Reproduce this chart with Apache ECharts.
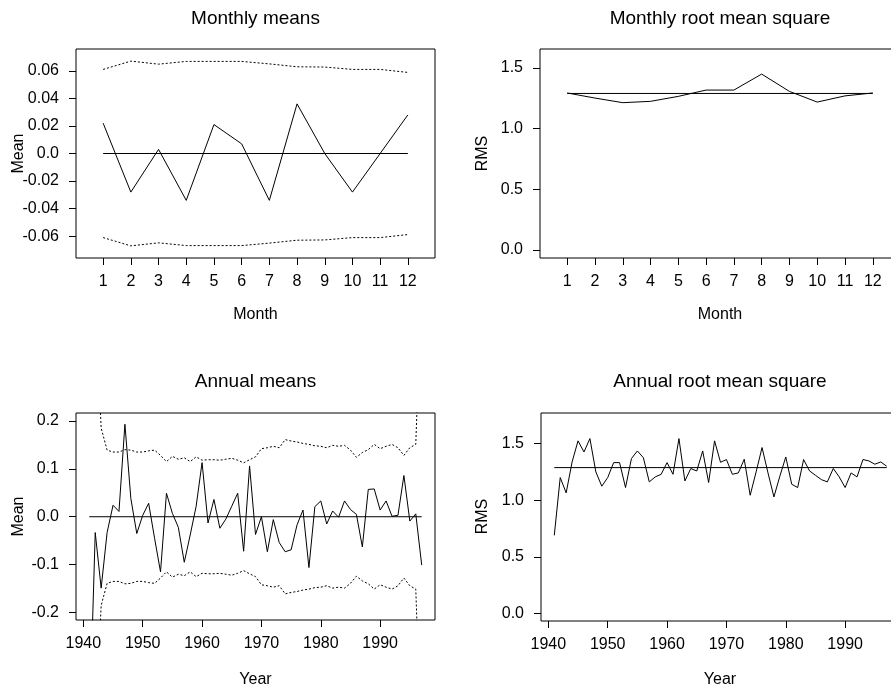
<!DOCTYPE html>
<html>
<head>
<meta charset="utf-8">
<script src="https://cdn.jsdelivr.net/npm/echarts@6/dist/echarts.min.js"></script>
<style>html,body{margin:0;padding:0;background:#fff}#c{width:891px;height:687px}</style>
</head>
<body>
<div id="c"></div>
<script>
// ---------- data ----------
const months = [1,2,3,4,5,6,7,8,9,10,11,12];
const monthlyMean = [0.022,-0.028,0.003,-0.034,0.021,0.007,-0.034,0.036,0.000,-0.028,0.000,0.028];
const monthlyMeanUpper = [0.061,0.067,0.0648,0.0668,0.0668,0.0668,0.065,0.0629,0.0627,0.061,0.061,0.0588];
const monthlyMeanLower = [-0.061,-0.067,-0.0648,-0.0668,-0.0668,-0.0668,-0.065,-0.0629,-0.0627,-0.061,-0.061,-0.0588];
const monthlyMeanRef = 0.0;
const monthlyRms = [1.294,1.252,1.214,1.225,1.266,1.318,1.318,1.450,1.307,1.219,1.270,1.294];
const monthlyRmsRef = 1.29;

const years = [1941,1942,1943,1944,1945,1946,1947,1948,1949,1950,
  1951,1952,1953,1954,1955,1956,1957,1958,1959,1960,
  1961,1962,1963,1964,1965,1966,1967,1968,1969,1970,
  1971,1972,1973,1974,1975,1976,1977,1978,1979,1980,
  1981,1982,1983,1984,1985,1986,1987,1988,1989,1990,
  1991,1992,1993,1994,1995,1996,1997];
const annualMean = [-0.45,-0.033,-0.149,-0.033,0.024,0.011,0.193,0.038,-0.035,0.003,
  0.028,-0.045,-0.115,0.049,0.007,-0.022,-0.095,-0.038,0.022,0.113,
  -0.013,0.036,-0.024,-0.005,0.022,0.049,-0.072,0.106,-0.037,0.000,
  -0.073,-0.006,-0.054,-0.073,-0.069,-0.017,0.014,-0.106,0.021,0.033,
  -0.015,0.012,-0.001,0.033,0.015,0.005,-0.063,0.057,0.058,0.014,
  0.033,0.001,0.003,0.086,-0.009,0.006,-0.101];
const annualMeanUpper = [null,0.45,0.185,0.139,0.135,0.135,0.140,0.139,0.135,0.135,
  0.1375,0.139,0.128,0.115,0.126,0.120,0.123,0.115,0.125,0.118,
  0.119,0.119,0.118,0.120,0.122,0.118,0.1125,0.119,0.125,0.142,
  0.144,0.147,0.144,0.161,0.158,0.156,0.153,0.151,0.148,0.147,
  0.144,0.149,0.147,0.149,0.139,0.124,0.134,0.140,0.151,0.142,
  0.147,0.151,0.144,0.128,0.144,0.151,0.5];
const annualMeanLower = [null,-0.45,-0.185,-0.139,-0.135,-0.135,-0.140,-0.139,-0.135,-0.135,
  -0.1375,-0.139,-0.128,-0.115,-0.126,-0.120,-0.123,-0.115,-0.125,-0.118,
  -0.119,-0.119,-0.118,-0.120,-0.122,-0.118,-0.1125,-0.119,-0.125,-0.142,
  -0.144,-0.147,-0.144,-0.161,-0.158,-0.156,-0.153,-0.151,-0.148,-0.147,
  -0.144,-0.149,-0.147,-0.149,-0.139,-0.124,-0.134,-0.140,-0.151,-0.142,
  -0.147,-0.151,-0.144,-0.128,-0.144,-0.151,-0.5];
const annualMeanRef = 0.0;
const annualRms = [0.69,1.20,1.065,1.338,1.524,1.426,1.544,1.25,1.124,1.20,
  1.332,1.332,1.112,1.368,1.435,1.376,1.162,1.206,1.229,1.332,
  1.229,1.544,1.17,1.28,1.258,1.435,1.156,1.524,1.335,1.359,
  1.229,1.241,1.362,1.044,1.25,1.465,1.241,1.029,1.212,1.382,
  1.141,1.112,1.359,1.259,1.22,1.182,1.162,1.28,1.206,1.112,
  1.241,1.206,1.359,1.347,1.318,1.338,1.30];
const annualRmsRef = 1.288;

const monthTicks = [1,2,3,4,5,6,7,8,9,10,11,12];
const yearTicks = [1940,1950,1960,1970,1980,1990];
const monthMeanTicks = [-0.06,-0.04,-0.02,0,0.02,0.04,0.06];
const annualMeanTicks = [-0.2,-0.1,0,0.1,0.2];
const rmsTicks = [0,0.5,1.0,1.5];

// ---------- chart ----------
const FONT = '"Liberation Sans", Arial, sans-serif';
const chart = echarts.init(document.getElementById('c'), null, {renderer: 'canvas'});
const pair = (xs, ys) => xs.map((x, i) => [x, ys[i]]);
const flat = (xs, v) => [[xs[0], v], [xs[xs.length - 1], v]];

const grids = [
  {left: 76, top: 49, width: 359, height: 209},
  {left: 540, top: 49, width: 360, height: 209},
  {left: 76, top: 413, width: 359, height: 207},
  {left: 541, top: 413, width: 359, height: 208}
].map(g => Object.assign({show: true, borderColor: '#000', borderWidth: 1, backgroundColor: 'transparent',
  containLabel: false, outerBoundsMode: 'none'}, g));

function xAx(gi, min, max, ticks) {
  return {type: 'value', gridIndex: gi, min, max, position: 'bottom',
    axisLine: {show: false, onZero: false}, splitLine: {show: false},
    axisTick: {show: true, length: 7, customValues: ticks, lineStyle: {color: '#000', width: 1}},
    axisLabel: {customValues: ticks, margin: 16, color: '#000', fontSize: 16, fontFamily: FONT,
      formatter: v => String(v)}};
}
function yAx(gi, min, max, ticks, fmt) {
  return {type: 'value', gridIndex: gi, min, max, position: 'left',
    axisLine: {show: false, onZero: false}, splitLine: {show: false},
    axisTick: {show: true, length: 7, customValues: ticks, lineStyle: {color: '#000', width: 1}},
    axisLabel: {customValues: ticks, margin: 17, color: '#000', fontSize: 16, fontFamily: FONT, formatter: fmt}};
}
const fmt2 = v => Math.abs(v) < 1e-12 ? '0.0' : v.toFixed(2);
const fmt1 = v => Math.abs(v) < 1e-12 ? '0.0' : v.toFixed(1);

function line(gi, data, dotted) {
  return {type: 'line', xAxisIndex: gi, yAxisIndex: gi, data, showSymbol: false, symbol: 'none',
    connectNulls: false, silent: true, clip: true,
    lineStyle: {color: '#000', width: 1, type: dotted ? [2, 2] : 'solid'}};
}

function txt(text, x, y, size, rot) {
  return {type: 'text', x, y, rotation: rot || 0, silent: true,
    style: {text, fill: '#000', font: size + 'px ' + FONT, align: 'center', verticalAlign: 'middle',
      textAlign: 'center', textVerticalAlign: 'middle'}};
}

chart.setOption({
  animation: false,
  backgroundColor: '#fff',
  grid: grids,
  xAxis: [
    xAx(0, 0.02, 12.98, monthTicks),
    xAx(1, 0.02, 12.98, monthTicks),
    xAx(2, 1938.76, 1999.24, yearTicks),
    xAx(3, 1938.76, 1999.24, yearTicks)
  ],
  yAxis: [
    yAx(0, -0.0758, 0.0758, monthMeanTicks, fmt2),
    yAx(1, -0.068, 1.657, rmsTicks, fmt1),
    yAx(2, -0.2155, 0.2165, annualMeanTicks, fmt1),
    yAx(3, -0.066, 1.770, rmsTicks, fmt1)
  ],
  series: [
    line(0, flat(months, monthlyMeanRef)),
    line(0, pair(months, monthlyMean)),
    line(0, pair(months, monthlyMeanUpper), true),
    line(0, pair(months, monthlyMeanLower), true),
    line(1, flat(months, monthlyRmsRef)),
    line(1, pair(months, monthlyRms)),
    line(2, flat(years, annualMeanRef)),
    line(2, pair(years, annualMean)),
    line(2, pair(years, annualMeanUpper), true),
    line(2, pair(years, annualMeanLower), true),
    line(3, flat(years, annualRmsRef)),
    line(3, pair(years, annualRms))
  ],
  graphic: [
    txt('Monthly means', 255.5, 18.5, 19),
    txt('Monthly root mean square', 720, 18.5, 19),
    txt('Annual means', 255.5, 381.5, 19),
    txt('Annual root mean square', 720, 381.5, 19),
    txt('Month', 255.5, 315, 16),
    txt('Month', 720, 315, 16),
    txt('Year', 255.5, 680, 16),
    txt('Year', 720, 680, 16),
    txt('Mean', 18.5, 153.5, 16, Math.PI / 2),
    txt('RMS', 482.5, 153.5, 16, Math.PI / 2),
    txt('Mean', 18.5, 516.5, 16, Math.PI / 2),
    txt('RMS', 482.5, 516.5, 16, Math.PI / 2)
  ]
});
</script>
</body>
</html>
